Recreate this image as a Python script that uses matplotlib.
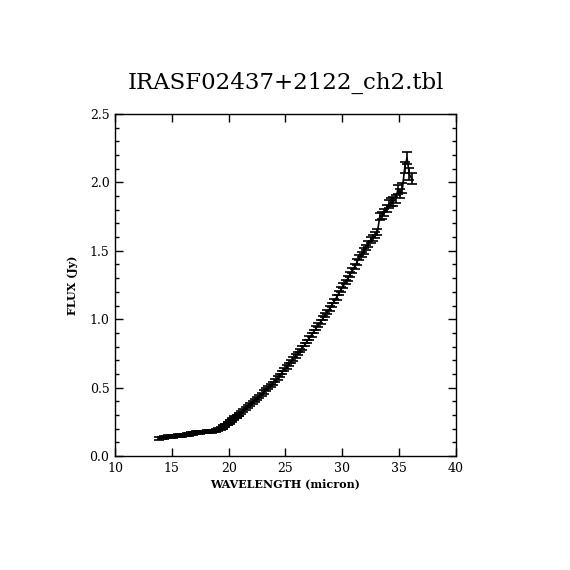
import numpy as np
import matplotlib
matplotlib.use("Agg")
import matplotlib.pyplot as plt
from matplotlib.ticker import MultipleLocator

# short-low order 2 part of the spectrum
wave_a = [13.9, 14.1, 14.3, 14.5, 14.7, 14.9, 15.1, 15.3, 15.5, 15.7, 15.9, 16.1,
          16.3, 16.5, 16.7, 16.9, 17.1, 17.3, 17.5, 17.7, 17.9, 18.1, 18.3, 18.5,
          18.7, 18.9, 19.1, 19.3, 19.5, 19.7, 19.9, 20.1, 20.3, 20.5, 20.7, 20.9]
flux_a = [0.128, 0.132, 0.135, 0.138, 0.140, 0.143, 0.145, 0.147, 0.148, 0.150, 0.152, 0.154,
          0.156, 0.158, 0.162, 0.166, 0.170, 0.172, 0.174, 0.175, 0.176, 0.177, 0.178, 0.180,
          0.183, 0.187, 0.193, 0.200, 0.210, 0.222, 0.235, 0.248, 0.262, 0.276, 0.290, 0.304]
err_a = [0.010, 0.010, 0.010, 0.010, 0.010, 0.010, 0.010, 0.010, 0.010, 0.010, 0.010, 0.010,
         0.010, 0.010, 0.010, 0.010, 0.010, 0.010, 0.010, 0.010, 0.010, 0.010, 0.010, 0.010,
         0.010, 0.010, 0.011, 0.011, 0.011, 0.011, 0.012, 0.012, 0.012, 0.012, 0.012, 0.012]

# order 1 part
wave_b = [19.5, 19.7, 19.9, 20.1, 20.3, 20.5, 20.7, 20.9, 21.1, 21.3, 21.5, 21.7,
          21.9, 22.1, 22.3, 22.5, 22.7, 22.9, 23.1, 23.3, 23.5, 23.7, 23.9, 24.1,
          24.3, 24.5, 24.7, 24.9, 25.1, 25.3, 25.5, 25.7, 25.9, 26.1, 26.3, 26.5,
          26.7, 26.9, 27.1, 27.3, 27.5, 27.7, 27.9, 28.1, 28.3, 28.5, 28.7, 28.9,
          29.1, 29.3, 29.5, 29.7, 29.9, 30.1, 30.3, 30.5, 30.7, 30.9, 31.1, 31.3,
          31.5, 31.7, 31.9, 32.1, 32.3, 32.5, 32.7, 32.9, 33.1, 33.3, 33.5, 33.7,
          33.9, 34.1, 34.3, 34.5, 34.7, 34.9, 35.1, 35.3, 35.5, 35.7, 35.9, 36.1]
flux_b = [0.212, 0.225, 0.240, 0.254, 0.266, 0.280, 0.292, 0.304, 0.317, 0.331, 0.345, 0.359,
          0.373, 0.388, 0.404, 0.420, 0.436, 0.452, 0.468, 0.484, 0.500, 0.516, 0.532, 0.550,
          0.570, 0.590, 0.610, 0.630, 0.650, 0.670, 0.690, 0.710, 0.730, 0.750, 0.770, 0.790,
          0.814, 0.838, 0.862, 0.886, 0.910, 0.934, 0.958, 0.982, 1.006, 1.030, 1.054, 1.078,
          1.104, 1.132, 1.160, 1.190, 1.216, 1.244, 1.272, 1.300, 1.328, 1.356, 1.386, 1.418,
          1.450, 1.472, 1.498, 1.524, 1.552, 1.580, 1.595, 1.615, 1.640, 1.750, 1.760, 1.780,
          1.810, 1.840, 1.855, 1.860, 1.880, 1.950, 1.920, 1.960, 2.110, 2.180, 2.060, 2.030]
err_b = [0.011, 0.011, 0.011, 0.011, 0.011, 0.011, 0.011, 0.011, 0.011, 0.011, 0.011, 0.011,
         0.011, 0.011, 0.011, 0.011, 0.011, 0.011, 0.012, 0.012, 0.012, 0.012, 0.012, 0.012,
         0.012, 0.012, 0.012, 0.012, 0.012, 0.012, 0.012, 0.012, 0.012, 0.013, 0.013, 0.013,
         0.013, 0.013, 0.013, 0.014, 0.014, 0.014, 0.014, 0.014, 0.015, 0.015, 0.015, 0.015,
         0.016, 0.016, 0.016, 0.016, 0.017, 0.017, 0.017, 0.018, 0.018, 0.018, 0.019, 0.019,
         0.019, 0.020, 0.020, 0.021, 0.021, 0.022, 0.022, 0.023, 0.023, 0.024, 0.025, 0.026,
         0.027, 0.028, 0.029, 0.030, 0.031, 0.033, 0.035, 0.037, 0.040, 0.045, 0.045, 0.040]

title = "IRASF02437+2122_ch2.tbl"

plt.rcParams['font.family'] = ['DejaVu Serif']

fig = plt.figure(figsize=(5.7, 5.7), dpi=100)
ax = fig.add_axes([0.2018, 0.2, 0.598, 0.6])

for w, f, e in [(wave_a, flux_a, err_a), (wave_b, flux_b, err_b)]:
    ax.plot(w, f, color='black', lw=1.2)
    ax.errorbar(w, f, yerr=e, fmt='none', ecolor='black', elinewidth=1.2,
                capsize=3.6, capthick=1.2)

ax.set_xlim(10, 40)
ax.set_ylim(0, 2.5)
ax.xaxis.set_major_locator(MultipleLocator(5))
ax.yaxis.set_major_locator(MultipleLocator(0.5))
ax.yaxis.set_minor_locator(MultipleLocator(0.1))
ax.yaxis.set_major_formatter(plt.FormatStrFormatter('%.1f'))
ax.tick_params(which='major', direction='in', length=6, width=1, top=True, right=True,
               labelsize=9, pad=4)
ax.tick_params(which='minor', direction='in', length=3, width=1, right=True)
for s in ax.spines.values():
    s.set_linewidth(1)

ax.set_xlabel("WAVELENGTH (micron)", fontsize=8, fontweight='bold', labelpad=3)
ax.set_ylabel("FLUX (Jy)", fontsize=8, fontweight='bold', labelpad=8)
ax.set_title(title, fontsize=16.5, pad=18)

fig.savefig("out.png", dpi=100)
